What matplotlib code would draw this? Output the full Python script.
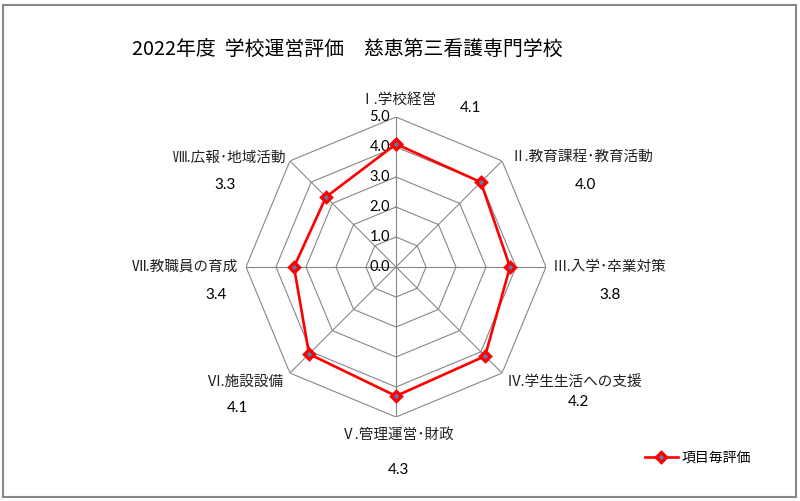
import numpy as np
import matplotlib
matplotlib.use("Agg")
import matplotlib.pyplot as plt
from matplotlib.patches import Rectangle

plt.rcParams['font.family'] = ['Noto Sans CJK JP', 'DejaVu Sans']

# data
categories = ["Ⅰ.学校経営", "Ⅱ.教育課程･教育活動", "Ⅲ.入学･卒業対策", "Ⅳ.学生生活への支援",
              "Ⅴ.管理運営･財政", "Ⅵ.施設設備", "Ⅶ.教職員の育成", "Ⅷ.広報･地域活動"]
scores = [4.1, 4.0, 3.8, 4.2, 4.3, 4.1, 3.4, 3.3]
r_ticks = [0.0, 1.0, 2.0, 3.0, 4.0, 5.0]
title = "2022年度  学校運営評価　慈恵第三看護専門学校"
series_name = "項目毎評価"

# label placement (pixel offsets from the outer vertex)
cat_offsets = [(2, 17, 'center'), (8, 4, 'left'), (7, 0, 'left'), (5, -9, 'left'),
               (2, -18, 'center'), (-7, -9, 'right'), (-8, 0, 'right'), (-3, 3, 'right')]
val_offsets = [(74, 9), (83, -24), (64, -28), (76, -29),
               (2, -53), (-52, -35), (-30, -28), (-65, -24)]

W, H = 800, 501
fig = plt.figure(figsize=(W / 100, H / 100), dpi=100)
cx, cy, R = 396, 267, 150
ax = fig.add_axes([(cx - R) / W, (H - cy - R) / H, 2 * R / W, 2 * R / H], polar=True)
ax.set_theta_zero_location('N')
ax.set_theta_direction(-1)
ax.set_ylim(0, r_ticks[-1])
ax.grid(False)
ax.spines['polar'].set_visible(False)
ax.set_xticks([])
ax.set_yticks([])
ax.patch.set_alpha(0)

n = len(categories)
angles = np.arange(n) * 2 * np.pi / n
closed = np.append(angles, angles[0])

grid_c = '#878787'
for r in r_ticks[1:]:
    ax.plot(closed, [r] * (n + 1), color=grid_c, lw=0.8, zorder=1)
for a in angles:
    ax.plot([a, a], [0, r_ticks[-1]], color=grid_c, lw=0.8, zorder=1)

for r in r_ticks:
    ax.annotate(f"{r:.1f}", xy=(0, r), xytext=(-6, 0), textcoords='offset pixels',
                ha='right', va='center', fontsize=10.5, family=['Lato', 'DejaVu Sans'],
                annotation_clip=False)

line, = ax.plot(closed, scores + [scores[0]], color='#FF0000', lw=1.9,
                marker='D', markersize=5.5, markerfacecolor='#4F81BD',
                markeredgecolor='#FF0000', markeredgewidth=2.4, zorder=3,
                label=series_name)

for a, lab, (dx, dy, ha) in zip(angles, categories, cat_offsets):
    ax.annotate(lab, xy=(a, r_ticks[-1]), xytext=(dx, dy), textcoords='offset pixels',
                ha=ha, va='center', fontsize=10.5, color='#222222', annotation_clip=False)

for a, v, (dx, dy) in zip(angles, scores, val_offsets):
    ax.annotate(f"{v:.1f}", xy=(a, r_ticks[-1]), xytext=(dx, dy), textcoords='offset pixels',
                ha='center', va='center', fontsize=11, family=['Lato', 'DejaVu Sans'],
                annotation_clip=False)

fig.text(132 / W, 1 - 50 / H, title, ha='left', va='center', fontsize=14.3)

fig.legend(handles=[line], loc='center left', bbox_to_anchor=(632 / W, 1 - 458 / H),
           frameon=False, fontsize=10, handlelength=2.4, handletextpad=0.3)

fig.patches.append(Rectangle((3 / W, 4 / H), 793 / W, 492 / H, transform=fig.transFigure,
                             fill=False, edgecolor='#888888', lw=1.5))

fig.savefig("out.png", dpi=100)
